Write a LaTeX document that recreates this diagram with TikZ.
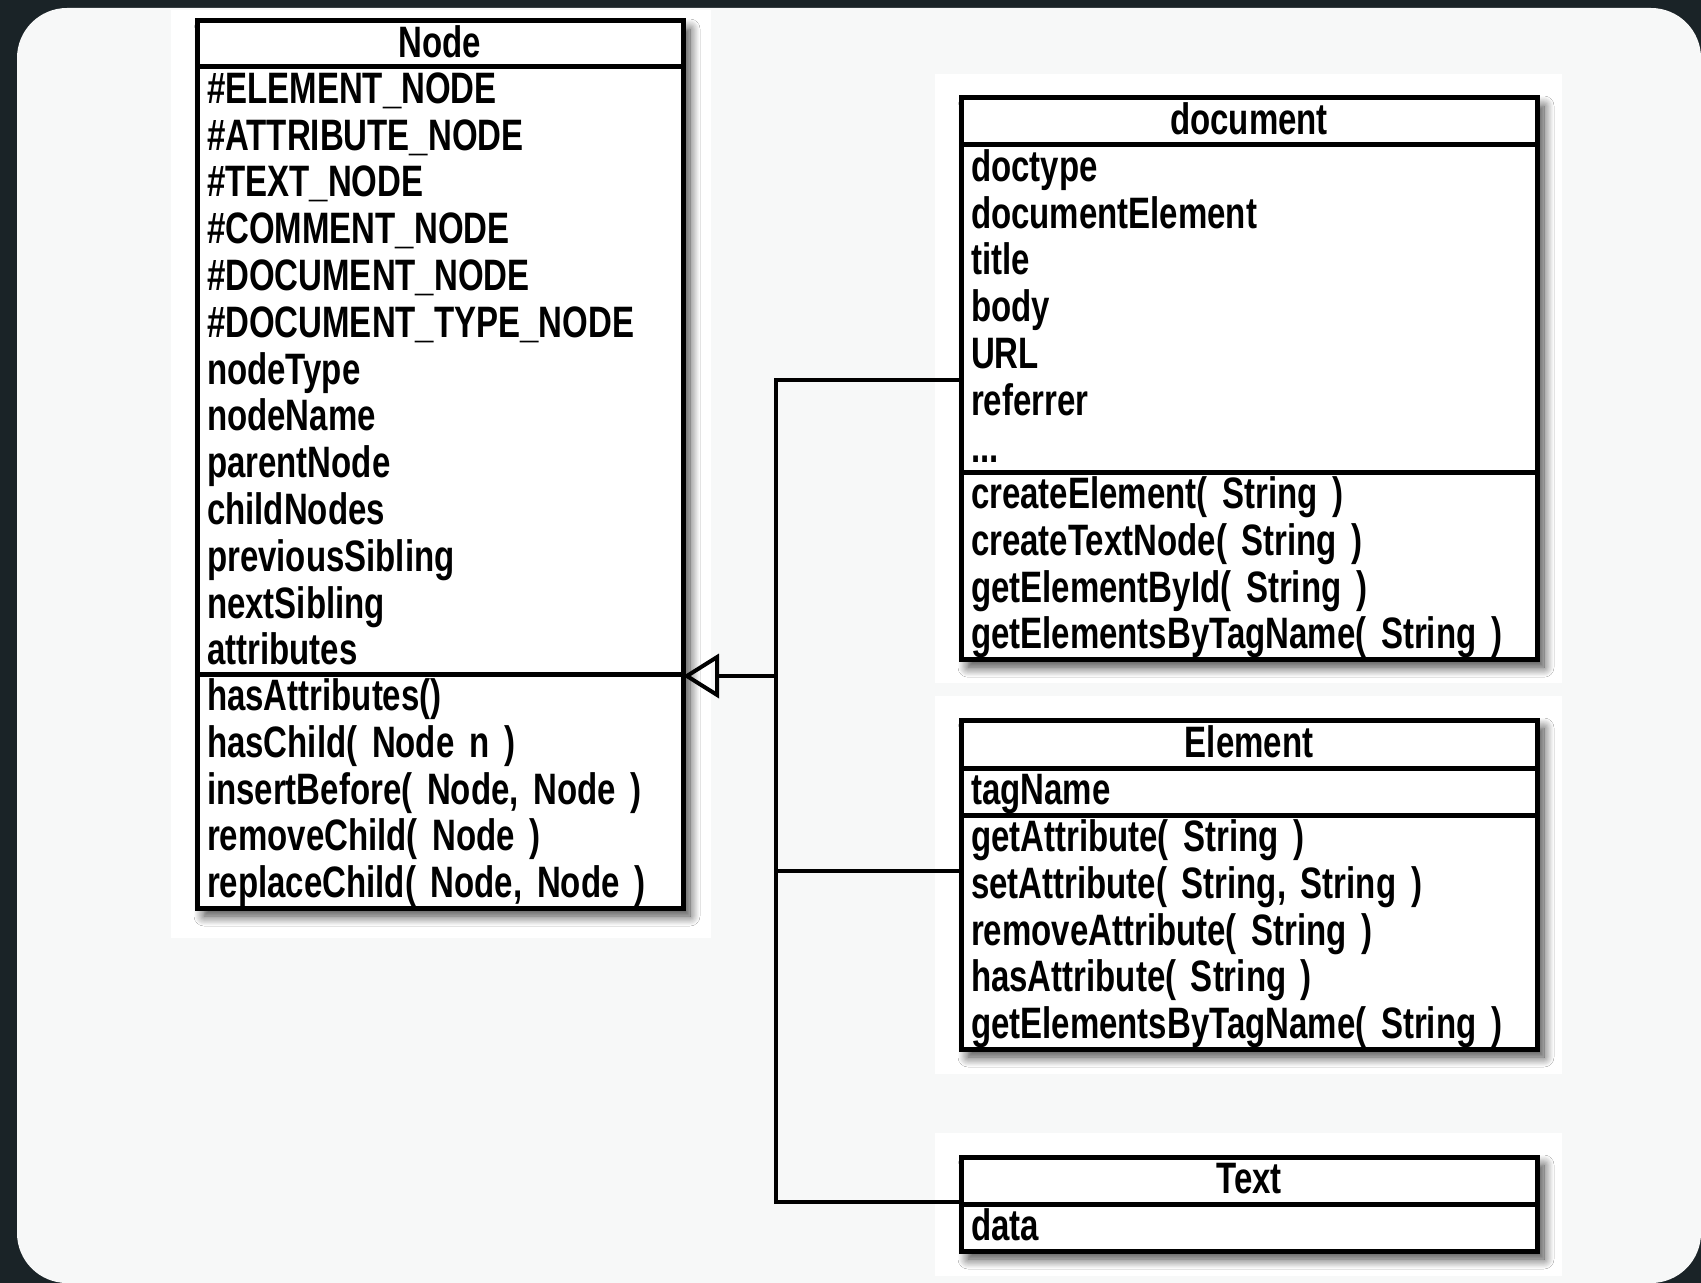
\documentclass[tikz,border=0pt]{standalone}
\usepackage{fontspec}
\newfontfamily\hand{Liberation Sans}[FakeStretch=0.75]
\usetikzlibrary{arrows.meta,shadows.blur,backgrounds}
\definecolor{frame}{RGB}{26,35,39}
\definecolor{panel}{RGB}{247,248,248}
\newcommand{\ls}{\rule[-5.2pt]{0pt}{23.4pt}}
\tikzset{
  cls/.style={draw=black, line width=2.5pt, fill=white, inner xsep=5pt, inner ysep=0pt,
    outer sep=0pt, anchor=north west, font=\hand\bfseries\fontsize{22}{23.4}\selectfont},
  lsec/.style={cls, minimum width=243pt, text width=233pt, align=left},
  rsec/.style={cls, minimum width=288pt, text width=278pt, align=left},
  hd/.style={align=center},
  conn/.style={draw=black, line width=2pt},
  boxshadow/.style={blur shadow={shadow xshift=3.5pt, shadow yshift=-4pt,
    shadow blur radius=5pt, shadow blur steps=12, shadow opacity=75}}
}
\begin{document}
\begin{tikzpicture}[x=0.5pt,y=-0.5pt]
\useasboundingbox (0,0) rectangle (1701,1283);

% Node class
\node[lsec, hd, minimum height=23pt] (n-head) at (197,21) {\ls Node};
\node[lsec, minimum height=303.5pt] (n-attr) at (197,67) {\ls\#ELEMENT\_NODE\\\ls\#ATTRIBUTE\_NODE\\\ls\#TEXT\_NODE\\\ls\#COMMENT\_NODE\\\ls\#DOCUMENT\_NODE\\\ls\#DOCUMENT\_TYPE\_NODE\\\ls nodeType\\\ls nodeName\\\ls parentNode\\\ls childNodes\\\ls previousSibling\\\ls nextSibling\\\ls attributes};
\node[lsec, minimum height=117pt] (n-meth) at (197,674) {\ls hasAttributes()\\\ls hasChild( Node n )\\\ls insertBefore( Node, Node )\\\ls removeChild( Node )\\\ls replaceChild( Node, Node )};

% document class
\node[rsec, hd, minimum height=23.5pt] (d-head) at (961,98) {\ls document};
\node[rsec, minimum height=163.5pt] (d-attr) at (961,145) {\ls doctype\\\ls documentElement\\\ls title\\\ls body\\\ls URL\\\ls referrer\\\ls ...};
\node[rsec, minimum height=93pt] (d-meth) at (961,472) {\ls createElement( String )\\\ls createTextNode( String )\\\ls getElementById( String )\\\ls getElementsByTagName( String )};

% Element class
\node[rsec, hd, minimum height=24pt] (e-head) at (961,720) {\ls Element};
\node[rsec, minimum height=23.5pt] (e-attr) at (961,768) {\ls tagName};
\node[rsec, minimum height=117pt] (e-meth) at (961,815) {\ls getAttribute( String )\\\ls setAttribute( String, String )\\\ls removeAttribute( String )\\\ls hasAttribute( String )\\\ls getElementsByTagName( String )};

% Text class
\node[rsec, hd, minimum height=23.5pt] (t-head) at (961,1157) {\ls Text};
\node[rsec, minimum height=23.5pt] (t-attr) at (961,1204) {\ls data};

% connectors
\coordinate (bus-d) at (776,380);
\coordinate (bus-n) at (776,676);
\coordinate (bus-e) at (776,871);
\coordinate (bus-t) at (776,1202);
\draw[conn] (d-attr.west |- bus-d) -- (bus-d) -- (bus-t) -- (t-head.south west |- bus-t);
\draw[conn] (e-meth.west |- bus-e) -- (bus-e);
\draw[conn, -{Triangle[open, length=18pt, width=22pt]}] (bus-n) -- (bus-n -| n-attr.east);

\begin{scope}[on background layer]
\fill[frame] (0,0) rectangle (1701,1283);
\fill[panel, rounded corners=25pt] (17,8) rectangle (1701,1283);
\fill[white] (171,10) rectangle (711,938);
\fill[white] (935,74) rectangle (1562,683);
\fill[white] (935,696) rectangle (1562,1074);
\fill[white] (935,1133) rectangle (1562,1276);
\path[fill=white, boxshadow] (n-head.north west) rectangle (n-meth.south east);
\path[fill=white, boxshadow] (d-head.north west) rectangle (d-meth.south east);
\path[fill=white, boxshadow] (e-head.north west) rectangle (e-meth.south east);
\path[fill=white, boxshadow] (t-head.north west) rectangle (t-attr.south east);
\end{scope}
\end{tikzpicture}
\end{document}
